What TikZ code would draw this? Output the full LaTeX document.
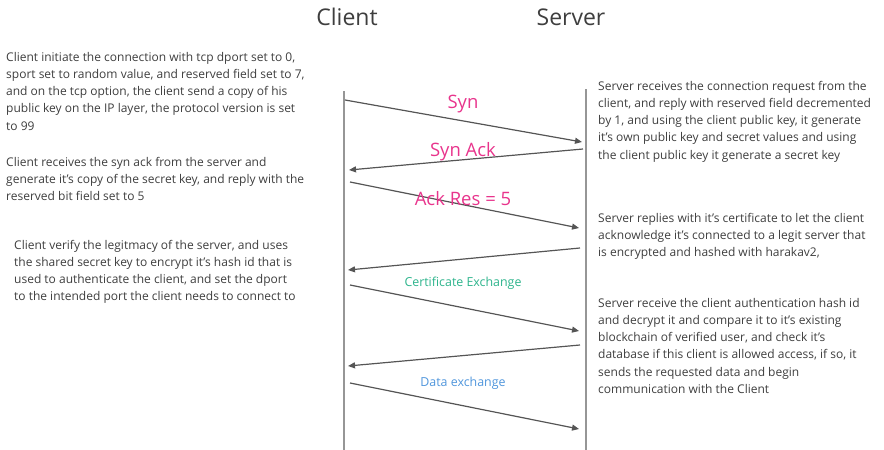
\documentclass[tikz,border=0pt]{standalone}
\usepackage{fontspec}
\setmainfont{Open Sans}
\usetikzlibrary{arrows.meta}
\definecolor{txt}{RGB}{62,62,62}
\definecolor{lifeline}{RGB}{150,150,150}
\definecolor{msgline}{RGB}{85,85,85}
\definecolor{pinkc}{RGB}{232,52,140}
\definecolor{tealc}{RGB}{45,180,140}
\definecolor{bluec}{RGB}{80,150,220}
\tikzset{
  note/.style={anchor=north west, inner sep=0pt, align=left, text=txt, font=\fontsize{12}{17.2}\selectfont},
  title/.style={inner sep=0pt, text=txt, font=\fontsize{23}{26}\selectfont},
  biglabel/.style={inner sep=0pt, text=pinkc, font=\fontsize{18.5}{21}\selectfont},
  smalllabel/.style={inner sep=0pt, font=\fontsize{12.4}{14}\selectfont},
  life/.style={draw=lifeline, line width=1.1pt},
  msg/.style={draw=msgline, line width=1.2pt, -{Triangle[length=7pt,width=6pt]}}
}
\begin{document}
\begin{tikzpicture}[x=1pt,y=-1pt]
\useasboundingbox (0,0) rectangle (884,450);
% titles
\node[title] (tc) at (347,17) {Client};
\node[title] (ts) at (571,17) {Server};
% lifelines
\coordinate (ctop) at (344,91);
\coordinate (cbot) at (344,450);
\coordinate (stop) at (586,89);
\coordinate (sbot) at (586,450);
\draw[life] (ctop) -- (cbot);
\draw[life] (stop) -- (sbot);
% message endpoints
\coordinate (m1a) at (345,100); \coordinate (m1b) at (582,142);
\coordinate (m2a) at (583,149); \coordinate (m2b) at (349,170);
\coordinate (m3a) at (350,182); \coordinate (m3b) at (579,228);
\coordinate (m4a) at (580,248); \coordinate (m4b) at (348,270);
\coordinate (m5a) at (350,285); \coordinate (m5b) at (579,331);
\coordinate (m6a) at (580,345); \coordinate (m6b) at (348,366);
\coordinate (m7a) at (350,383); \coordinate (m7b) at (579,429);
\draw[msg] (m1a) -- (m1b);
\draw[msg] (m2a) -- (m2b);
\draw[msg] (m3a) -- (m3b);
\draw[msg] (m4a) -- (m4b);
\draw[msg] (m5a) -- (m5b);
\draw[msg] (m6a) -- (m6b);
\draw[msg] (m7a) -- (m7b);
% labels
\node[biglabel] (lsyn) at (463,104) {Syn};
\node[biglabel] (lsynack) at (463,152) {Syn Ack};
\node[biglabel] (lack) at (463,199) {Ack Res = 5};
\node[smalllabel, text=tealc] (lcert) at (463,283) {Certificate Exchange};
\node[smalllabel, text=bluec] (ldata) at (463,383) {Data exchange};
% left notes
\node[note] (n1) at (6,52) {Client initiate the connection with tcp dport set to 0,\\
sport set to random value, and reserved field set to 7,\\
and on the tcp option, the client send a copy of his\\
public key on the IP layer, the protocol version is set\\
to 99};
\node[note] (n2) at (6,157) {Client receives the syn ack from the server and\\
generate it's copy of the secret key, and reply with the\\
reserved bit field set to 5};
\node[note] (n3) at (14,240) {Client verify the legitmacy of the server, and uses\\
the shared secret key to encrypt it's hash id that is\\
used to authenticate the client, and set the dport\\
to the intended port the client needs to connect to};
% right notes
\node[note] (s1) at (598,81) {Server receives the connection request from the\\
client, and reply with reserved field decremented\\
by 1, and using the client public key, it generate\\
it's own public key and secret values and using\\
the client public key it generate a secret key};
\node[note] (s2) at (598,213) {Server replies with it's certificate to let the client\\
acknowledge it's connected to a legit server that\\
is encrypted and hashed with harakav2,};
\node[note] (s3) at (598,298) {Server receive the client authentication hash id\\
and decrypt it and compare it to it's existing\\
blockchain of verified user, and check it's\\
database if this client is allowed access, if so, it\\
sends the requested data and begin\\
communication with the Client};
\end{tikzpicture}
\end{document}
